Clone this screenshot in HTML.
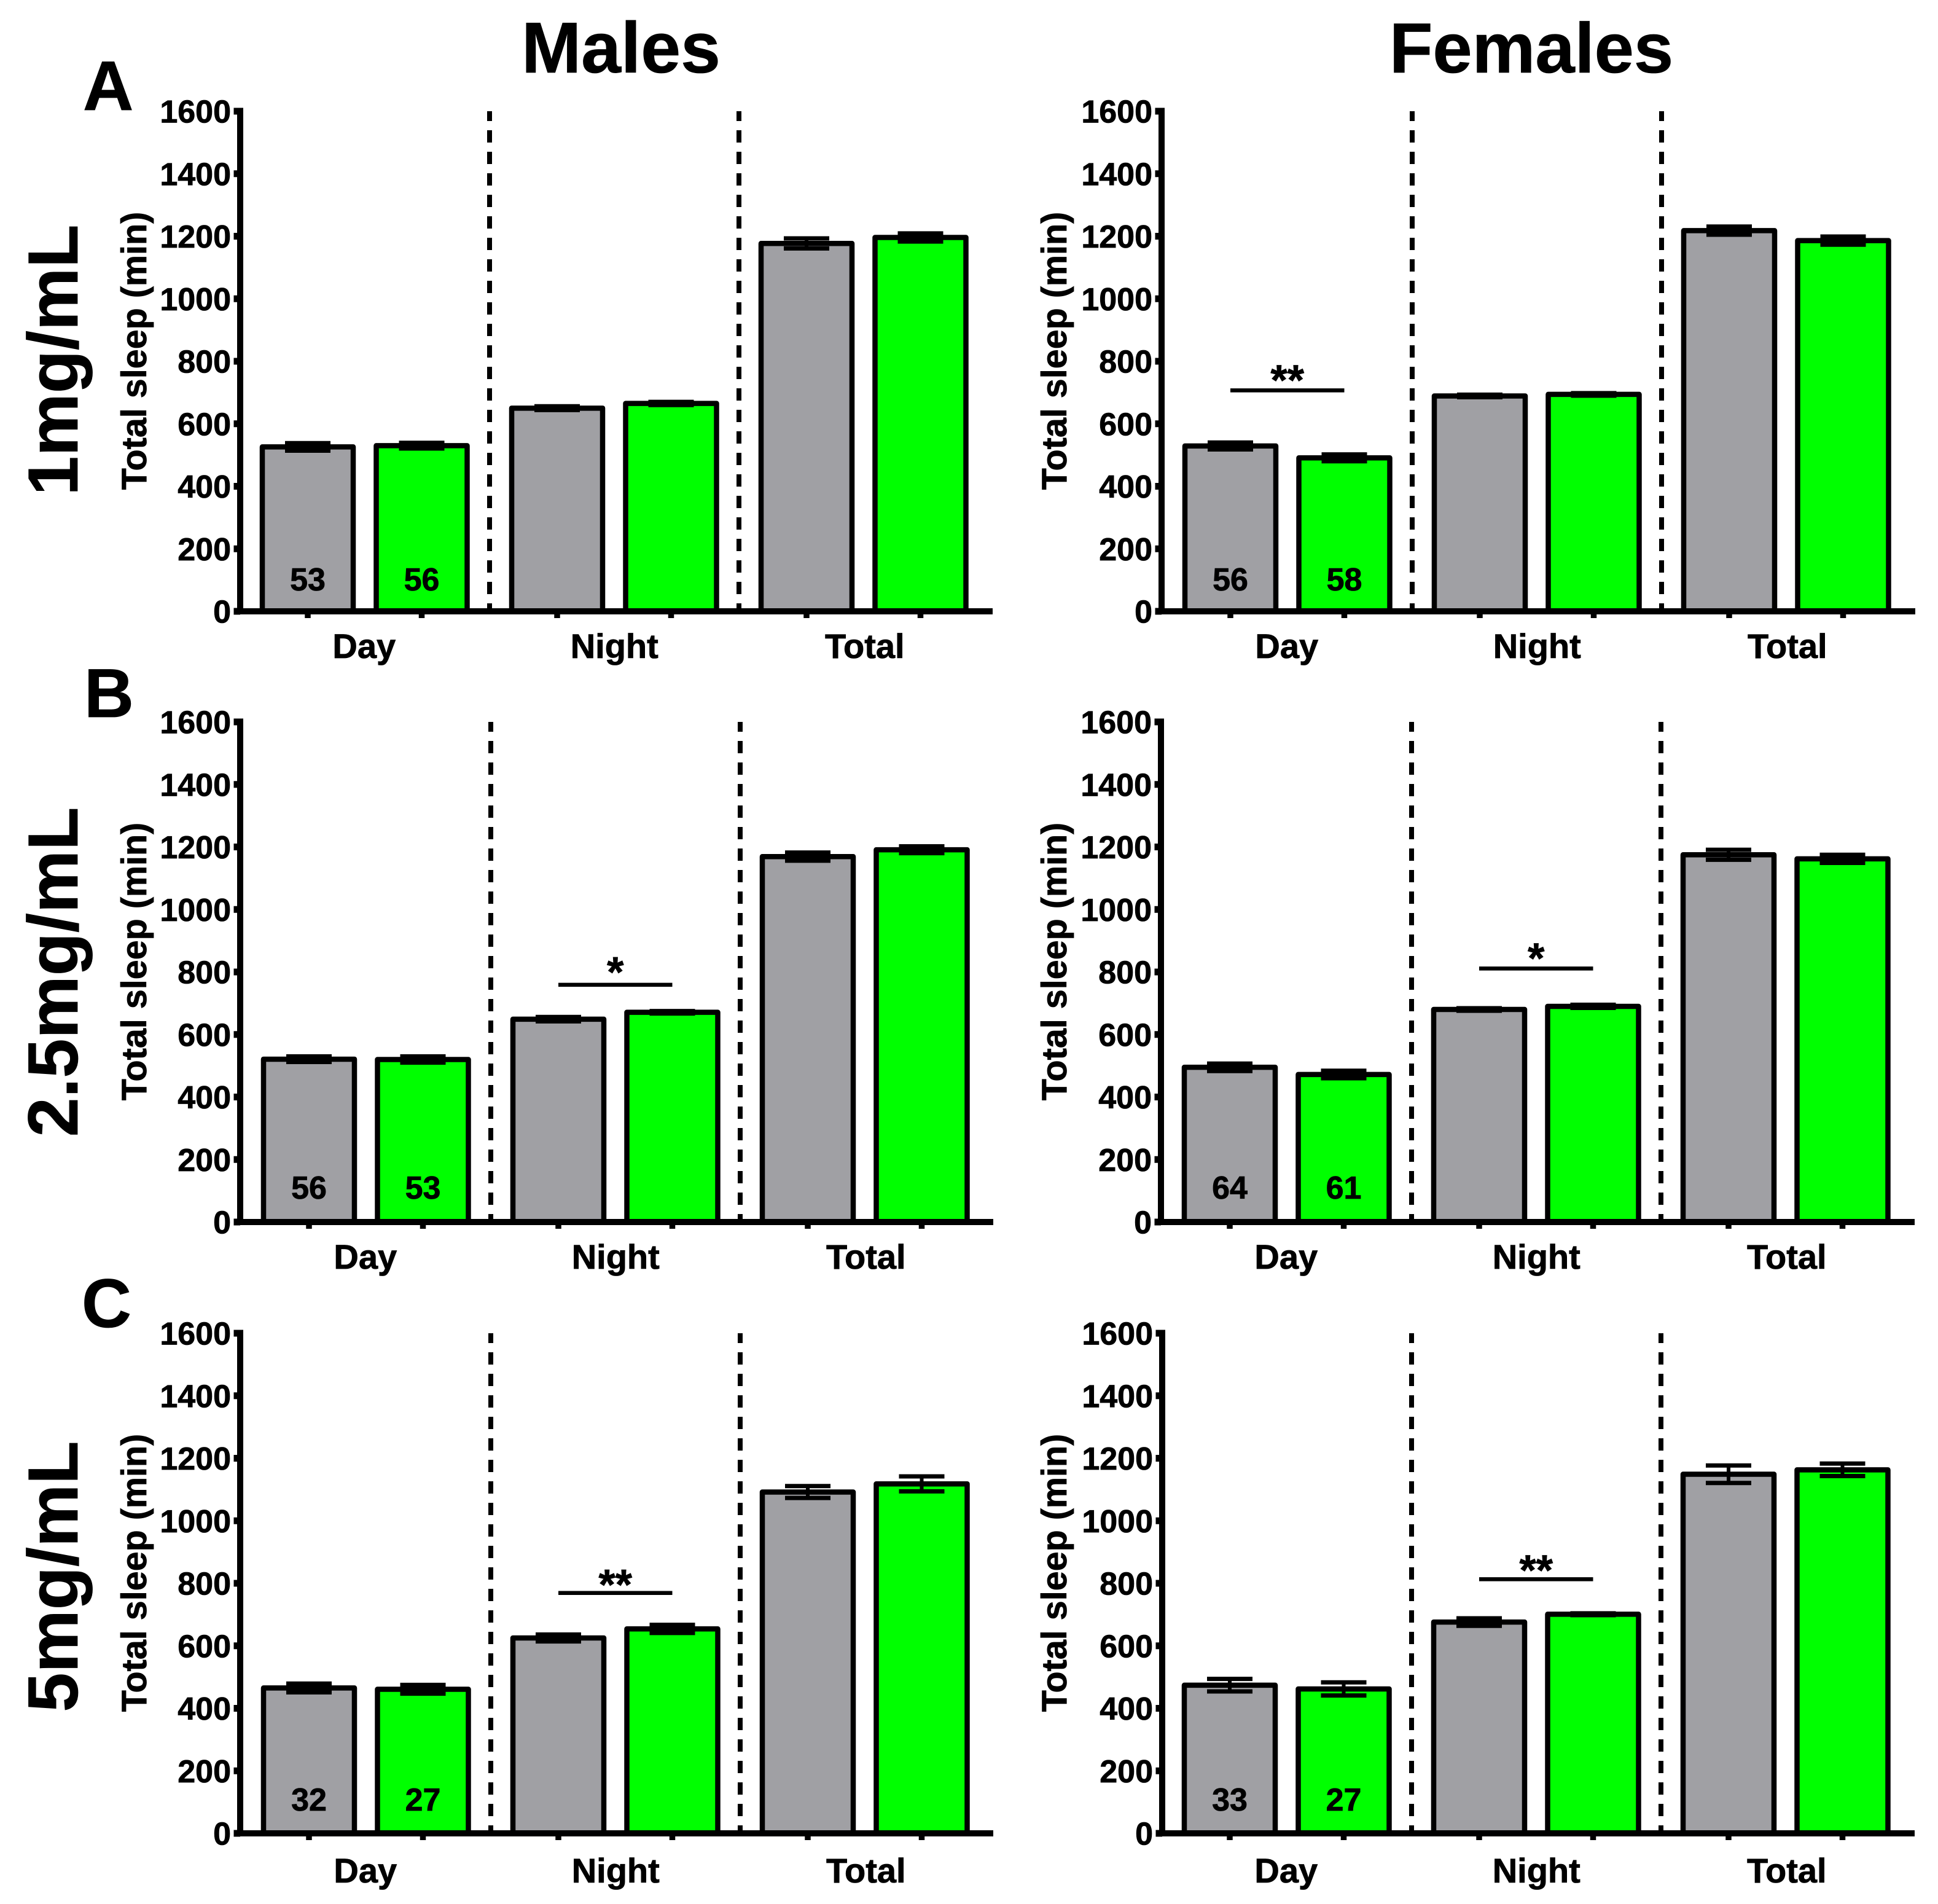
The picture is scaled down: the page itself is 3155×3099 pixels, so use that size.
<!DOCTYPE html>
<html lang="en">
<head>
<meta charset="utf-8">
<title>Total sleep by dose and sex</title>
<style>
html,body{margin:0;padding:0;background:#fff;}
svg{display:block;}
text{font-family:"Liberation Sans",Arial,sans-serif;font-weight:bold;fill:#000;stroke:#000;stroke-width:0.8;}
</style>
</head>
<body>
<svg id="figure" xmlns="http://www.w3.org/2000/svg" width="3155" height="3099" viewBox="0 0 3155 3099">
  <rect x="0" y="0" width="3155" height="3099" fill="#ffffff"/>
  <text x="1011" y="118" font-size="116.5" text-anchor="middle">Males</text>
  <text x="2493" y="118" font-size="115.5" text-anchor="middle">Females</text>
  <text x="135" y="179" font-size="114">A</text>
  <text x="137" y="1167" font-size="112">B</text>
  <text x="133" y="2160" font-size="112">C</text>
  <text transform="translate(126,586) rotate(-90)" font-size="115" text-anchor="middle">1mg/mL</text>
  <text transform="translate(126,1582) rotate(-90)" font-size="115" text-anchor="middle">2.5mg/mL</text>
  <text transform="translate(126,2566) rotate(-90)" font-size="115" text-anchor="middle">5mg/mL</text>
</svg>
<script>
const categories = ['Day', 'Night', 'Total'];
const yTickValues = [0, 200, 400, 600, 800, 1000, 1200, 1400, 1600];
const yMax = 1600;

const males1Control = [526, 650, 1177];
const males1Treated = [530, 665, 1196];
const males1ControlErr = [12, 6, 16];
const males1TreatedErr = [9, 5, 13];
const males1Counts = ['53', '56'];

const females1Control = [529, 689, 1218];
const females1Treated = [491, 694, 1186];
const females1ControlErr = [11, 4, 13];
const females1TreatedErr = [11, 4, 13];
const females1Counts = ['56', '58'];

const males25Control = [521, 649, 1169];
const males25Treated = [520, 671, 1191];
const males25ControlErr = [9, 7, 13];
const males25TreatedErr = [10, 4, 11];
const males25Counts = ['56', '53'];

const females25Control = [495, 680, 1175];
const females25Treated = [472, 690, 1162];
const females25ControlErr = [12, 4, 16];
const females25TreatedErr = [12, 5, 13];
const females25Counts = ['64', '61'];

const males5Control = [465, 625, 1092];
const males5Treated = [461, 654, 1118];
const males5ControlErr = [14, 11, 19];
const males5TreatedErr = [14, 13, 24];
const males5Counts = ['32', '27'];

const females5Control = [474, 676, 1149];
const females5Treated = [462, 701, 1163];
const females5ControlErr = [20, 12, 28];
const females5TreatedErr = [21, 3, 20];
const females5Counts = ['33', '27'];

const seriesColors = ['#a0a0a4', '#00ff00'];

const panels = [
  {id: 'males-1mg', axisX: 391, firstX: 501, base: 995, top: 181, right: 1616, labelX: 238, countOffset: 34, labelOffset: 76, starLift: 0, control: males1Control, treated: males1Treated, controlErr: males1ControlErr, treatedErr: males1TreatedErr, counts: males1Counts, sigGroup: -1, sigValue: 0, sigMark: ''},
  {id: 'females-1mg', axisX: 1891, firstX: 2003, base: 995, top: 181, right: 3118, labelX: 1736, countOffset: 34, labelOffset: 76, starLift: 0, control: females1Control, treated: females1Treated, controlErr: females1ControlErr, treatedErr: females1TreatedErr, counts: females1Counts, sigGroup: 0, sigValue: 707, sigMark: '**'},
  {id: 'males-2-5mg', axisX: 391, firstX: 503, base: 1989, top: 1175, right: 1617, labelX: 238, countOffset: 38, labelOffset: 76, starLift: 4, control: males25Control, treated: males25Treated, controlErr: males25ControlErr, treatedErr: males25TreatedErr, counts: males25Counts, sigGroup: 1, sigValue: 759, sigMark: '*'},
  {id: 'females-2-5mg', axisX: 1890, firstX: 2002, base: 1989, top: 1175, right: 3117, labelX: 1736, countOffset: 38, labelOffset: 76, starLift: 0, control: females25Control, treated: females25Treated, controlErr: females25ControlErr, treatedErr: females25TreatedErr, counts: females25Counts, sigGroup: 1, sigValue: 811, sigMark: '*'},
  {id: 'males-5mg', axisX: 391, firstX: 503, base: 2984, top: 2170, right: 1617, labelX: 238, countOffset: 37, labelOffset: 80, starLift: -3, control: males5Control, treated: males5Treated, controlErr: males5ControlErr, treatedErr: males5TreatedErr, counts: males5Counts, sigGroup: 1, sigValue: 769, sigMark: '**'},
  {id: 'females-5mg', axisX: 1892, firstX: 2002, base: 2984, top: 2170, right: 3117, labelX: 1736, countOffset: 37, labelOffset: 80, starLift: -2, control: females5Control, treated: females5Treated, controlErr: females5ControlErr, treatedErr: females5TreatedErr, counts: females5Counts, sigGroup: 1, sigValue: 813, sigMark: '**'}
];

const svg = document.getElementById('figure');
const NS = 'http://www.w3.org/2000/svg';
const GROUP_STEP = 406;
const SERIES_STEP = 185.5;
const BAR_W = 148;
const STROKE = 8.5;

function make(tag, parent, props) {
  const node = document.createElementNS(NS, tag);
  for (const key in props) node.setAttribute(key, props[key]);
  parent.appendChild(node);
  return node;
}

panels.forEach(function (p) {
  const yScale = function (v) { return p.base - v * (p.base - p.top) / yMax; };
  const xScale = function (group, series) { return p.firstX + group * GROUP_STEP + series * SERIES_STEP; };

  const g = make('g', svg, {});
  
  

  // bars and error bars
  [p.control, p.treated].forEach(function (vals, s) {
    const errs = s === 0 ? p.controlErr : p.treatedErr;
    const seriesName = s === 0 ? 'control' : 'treated';
    vals.forEach(function (v, i) {
      const cx = xScale(i, s);
      const bar = make('rect', g, {
        x: cx - BAR_W / 2, y: yScale(v), width: BAR_W, height: yScale(0) - yScale(v),
        fill: seriesColors[s], stroke: '#000', 'stroke-width': STROKE, 'stroke-linejoin': 'round'
      });
      
      

      const e = errs[i];
      const stem = make('line', g, {x1: cx, x2: cx, y1: yScale(v + e), y2: yScale(v - e), stroke: '#000', 'stroke-width': 6});
      
      
      [v + e, v - e].forEach(function (capV) {
        const cap = make('line', g, {x1: cx - 37, x2: cx + 37, y1: yScale(capV), y2: yScale(capV), stroke: '#000', 'stroke-width': 7});
        
        
      });
    });
  });

  // group separators
  [0, 1].forEach(function (k) {
    const dx = xScale(k, 0) + 296;
    const sep = make('line', g, {x1: dx, x2: dx, y1: p.top, y2: p.base, stroke: '#000', 'stroke-width': 8, 'stroke-dasharray': '20 15', 'stroke-dashoffset': 4});
    
    
  });

  // y axis
  const yAxis = make('line', g, {x1: p.axisX, x2: p.axisX, y1: p.top - 5.5, y2: p.base, stroke: '#000', 'stroke-width': 10});
  
  
  yTickValues.forEach(function (t) {
    const ty = yScale(t);
    const tick = make('line', g, {x1: p.axisX - 10.5, x2: p.axisX, y1: ty, y2: ty, stroke: '#000', 'stroke-width': 11});
    
    
    const label = make('text', g, {x: p.axisX - 15, y: ty + 18.5, 'font-size': 52, 'text-anchor': 'end'});
    label.textContent = String(t);
    
    
  });

  // x axis
  const xAxis = make('line', g, {x1: p.axisX - 10.5, x2: p.right, y1: p.base, y2: p.base, stroke: '#000', 'stroke-width': 10});
  
  
  categories.forEach(function (c, i) {
    [0, 1].forEach(function (s) {
      const tx = xScale(i, s);
      const xt = make('line', g, {x1: tx, x2: tx, y1: p.base, y2: p.base + 11, stroke: '#000', 'stroke-width': 9.5});
      
      
    });
    const cl = make('text', g, {x: xScale(i, 0.5) - 1 + i * 1.5, y: p.base + p.labelOffset, 'font-size': 56, 'text-anchor': 'middle'});
    cl.textContent = c;
    
    
  });

  // y axis title
  const title = make('text', g, {
    transform: 'translate(' + p.labelX + ',' + (p.top + 390) + ') rotate(-90)',
    'font-size': 57.5, 'text-anchor': 'middle'
  });
  title.textContent = 'Total sleep (min)';
  
  

  // sample sizes
  p.counts.forEach(function (n, s) {
    const nt = make('text', g, {x: xScale(0, s), y: p.base - p.countOffset, 'font-size': 52, 'text-anchor': 'middle'});
    nt.textContent = n;
    
    
  });

  // significance bracket
  if (p.sigGroup >= 0) {
    const x1 = xScale(p.sigGroup, 0);
    const x2 = xScale(p.sigGroup, 1);
    const sy = yScale(p.sigValue);
    const sl = make('line', g, {x1: x1, x2: x2, y1: sy, y2: sy, stroke: '#000', 'stroke-width': 6.5});
    
    
    const st = make('text', g, {x: (x1 + x2) / 2, y: sy + 7 - p.starLift, 'font-size': 70, 'text-anchor': 'middle'});
    st.textContent = p.sigMark;
    
    
  }
});
</script>
</body>
</html>
